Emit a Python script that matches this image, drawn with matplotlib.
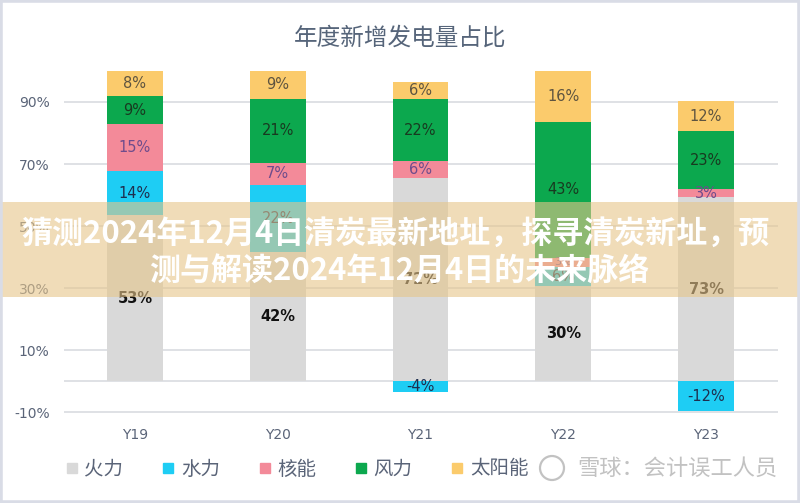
import matplotlib
matplotlib.use("Agg")
import matplotlib.pyplot as plt
from matplotlib.patches import Rectangle, Ellipse
from matplotlib.lines import Line2D
import numpy as np

plt.rcParams['font.family'] = ['Noto Sans CJK SC', 'DejaVu Sans']

# ---- data (percent labels as shown in the chart) ----
categories = ["Y19", "Y20", "Y21", "Y22", "Y23"]
series_names = ["火力", "水力", "核能", "风力", "太阳能"]
fire = [53, 42, 72, 30, 73]
hydro = [14, 22, -4, 6, -12]
nuclear = [15, 7, 6, 3, 3]
wind = [9, 21, 22, 43, 23]
solar = [8, 9, 6, 16, 12]
y_ticks = [-10, 10, 30, 50, 70, 90]
title = "年度新增发电量占比"
banner_line1 = "猜测2024年12月4日清炭最新地址，探寻清炭新址，预"
banner_line2 = "测与解读2024年12月4日的未来脉络"
watermark = "雪球：会计误工人员"

colors = ["#D9D9D9", "#1ECDF4", "#F38A99", "#0CA84E", "#FBCB6C"]
label_colors = ["#111111", "#1E2E4E", "#6E4C8C", "#183A20", "#5E5440"]
label_weights = ["bold", "normal", "normal", "normal", "normal"]

series = [fire, hydro, nuclear, wind, solar]
vals = np.array(series, dtype=float)          # shape (5 series, 5 cats)
gross = np.abs(vals).sum(axis=0)              # bars drawn as share of gross total
heights = vals / gross * 100

fig = plt.figure(figsize=(8, 5.03), dpi=100)
fig.patch.set_facecolor("white")
ax = fig.add_axes([63.5 / 800, (503 - 415.1) / 503, 714 / 800, (415.1 - 71) / 503])

x = np.arange(len(categories))
width = 0.39
pos_base = np.zeros(len(categories))
neg_base = np.zeros(len(categories))
for i, (name, h) in enumerate(zip(series_names, heights)):
    bottoms = np.where(h >= 0, pos_base, neg_base)
    ax.bar(x, h, width, bottom=bottoms, color=colors[i], zorder=3, label=name)
    for j in range(len(categories)):
        if vals[i, j] == 0:
            continue
        cy = bottoms[j] + h[j] / 2
        fs = 10.5 if abs(h[j]) >= 3.5 or j != 3 else 8
        ax.text(x[j], cy, f"{int(vals[i, j])}%", ha="center", va="center",
                fontsize=fs, color=label_colors[i], weight=label_weights[i],
                family=["DejaVu Sans"], zorder=4)
    pos_base = pos_base + np.where(h >= 0, h, 0)
    neg_base = neg_base + np.where(h < 0, h, 0)

ax.set_xlim(-0.5, len(categories) - 0.5)
ax.set_ylim(-11, 100)
ax.set_yticks(y_ticks)
ax.set_yticklabels([f"{v}%" for v in y_ticks])
ax.set_xticks(x)
ax.set_xticklabels(categories)
for s in ax.spines.values():
    s.set_visible(False)
ax.tick_params(axis="both", length=0, labelsize=10, colors="#5A6478")
ax.tick_params(axis="y", pad=10)
ax.tick_params(axis="x", pad=9)
for t in ax.get_yticklabels() + ax.get_xticklabels():
    t.set_family(["DejaVu Sans"])
for v in y_ticks + [0]:
    ax.axhline(v, color="#D6D8DE", lw=1.1, zorder=1)

fig.text(0.5, (503 - 38) / 503, title, ha="center", va="center",
         fontsize=17, color="#56657A")

# legend
handles = [Line2D([0], [0], marker="s", linestyle="none", markersize=7.5,
                  markerfacecolor=c, markeredgecolor=c) for c in colors]
leg = fig.legend(handles, series_names, loc="center left",
                 bbox_to_anchor=(66 / 800, (503 - 469) / 503), ncol=5,
                 frameon=False, fontsize=14, handlelength=0.6,
                 handletextpad=0.35, columnspacing=2.0, borderpad=0,
                 borderaxespad=0)
for t in leg.get_texts():
    t.set_color("#5A6478")

# watermark
fig.text(577 / 800, (503 - 468) / 503, watermark, ha="left", va="center",
         fontsize=16, color="#C2C2C2", zorder=12)
fig.add_artist(Ellipse((552 / 800, (503 - 468) / 503), 24 / 800, 24 / 503,
                       transform=fig.transFigure, fill=False,
                       edgecolor="#C2C2C2", lw=1.6, zorder=12))

# banner overlay
fig.add_artist(Rectangle((0, (503 - 297) / 503), 1, 95 / 503,
                         transform=fig.transFigure, facecolor="#E6C58A",
                         alpha=0.6, edgecolor="none", zorder=10))
fig.text(396 / 800, (503 - 234) / 503, banner_line1, ha="center", va="center",
         fontsize=22.3, weight="bold", color="white", zorder=11)
fig.text(399 / 800, (503 - 271) / 503, banner_line2, ha="center", va="center",
         fontsize=22.3, weight="bold", color="white", zorder=11)

# outer frame
fig.add_artist(Rectangle((0, 0), 1, 1, transform=fig.transFigure, fill=False,
                         edgecolor="#D9DCE6", lw=4, zorder=13))

fig.savefig("out.png", dpi=100)
